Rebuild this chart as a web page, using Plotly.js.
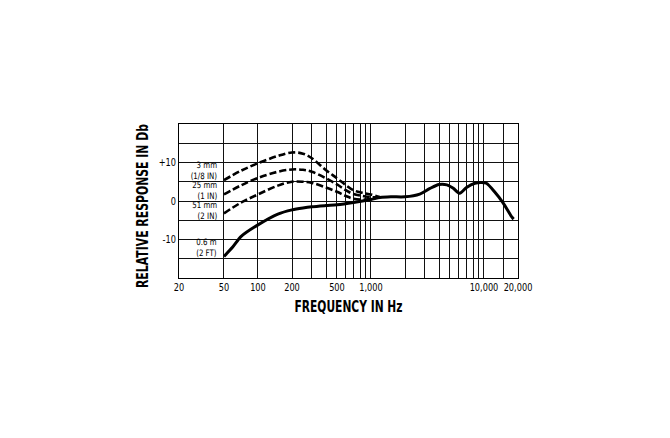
<!DOCTYPE html>
<html>
<head>
<meta charset="utf-8">
<script src="https://cdn.plot.ly/plotly-3.0.1.min.js"></script>
<style>
html,body{margin:0;padding:0;background:#fff;}
#chart{width:670px;height:438px;}
</style>
</head>
<body>
<div id="chart"></div>
<script>
// Frequencies (Hz) and relative response (dB)
const freq3mm = [50, 70, 100, 150, 200, 250, 300, 400, 500, 600, 700, 850, 1000, 1200];
const resp3mm = [5.4, 7.8, 9.8, 11.7, 12.6, 12.3, 11.1, 8.0, 5.9, 4.1, 2.8, 2.1, 1.7, 1.0];

const freq25mm = [50, 70, 100, 150, 200, 250, 300, 400, 500, 600, 700, 850, 1000, 1200];
const resp25mm = [1.7, 4.0, 6.0, 7.6, 8.2, 8.1, 7.6, 5.9, 4.3, 2.8, 1.8, 1.3, 1.0, 1.0];

const freq51mm = [50, 70, 100, 150, 200, 250, 300, 400, 500, 600, 700, 900, 1100];
const resp51mm = [-3.2, -0.5, 1.7, 4.0, 5.0, 5.0, 4.7, 3.5, 2.4, 1.3, 0.6, 0.4, 0.8];

const freq06m = [50, 60, 71, 100, 150, 200, 250, 300, 400, 500, 700, 1000, 1200, 1500, 2000, 2700, 3300, 4000, 4700, 5350, 6100, 7000, 8300, 9500, 10500, 12400, 14700, 17700, 18300];
const resp06m = [-14.4, -11.9, -9.2, -6.2, -3.4, -2.3, -1.8, -1.5, -1.2, -1.0, -0.4, 0.4, 0.9, 1.1, 1.1, 1.8, 3.2, 4.3, 4.2, 3.3, 2.0, 3.5, 4.6, 4.8, 4.6, 2.4, -0.4, -4.2, -4.7];

// Axis ticks / grid
const xGridVals = [20, 50, 100, 200, 300, 400, 500, 600, 700, 800, 900, 1000, 2000, 3000, 4000, 5000, 6000, 7000, 8000, 9000, 10000, 15000, 20000];
const xGridText = ["20", "50", "100", "200", "", "", "500", "", "", "", "", "1,000", "", "", "", "", "", "", "", "", "10,000", "", "20,000"];
const yGridVals = [-20, -15, -10, -5, 0, 5, 10, 15, 20];
const yGridText = ["", "", "-10", "", "0", "", "+10", "", ""];

// Curve labels
const labelText = ["3 mm<br>(1/8 IN)", "25 mm<br>(1 IN)", "51 mm<br>(2 IN)", "0.6 m<br>(2 FT)"];
const labelDb = [7.8, 2.8, -2.35, -11.95];

const fam = '"DejaVu Sans", sans-serif';
const dashStyle = {color: '#000', width: 2.6, dash: '7px,3px', shape: 'spline', smoothing: 1};

const traces = [
  {x: freq3mm, y: resp3mm, mode: 'lines', line: dashStyle, hoverinfo: 'skip'},
  {x: freq25mm, y: resp25mm, mode: 'lines', line: dashStyle, hoverinfo: 'skip'},
  {x: freq51mm, y: resp51mm, mode: 'lines', line: dashStyle, hoverinfo: 'skip'},
  {x: freq06m, y: resp06m, mode: 'lines', line: {color: '#000', width: 3, shape: 'spline', smoothing: 0.8}, hoverinfo: 'skip'}
];

const annotations = labelText.map((t, i) => ({
  text: t, xref: 'paper', yref: 'y', x: 0.116, y: labelDb[i],
  xanchor: 'right', yanchor: 'middle', align: 'right', showarrow: false, borderpad: 0,
  font: {family: fam, size: 8.8, color: '#000'}
}));

const layout = {
  width: 670, height: 438,
  margin: {l: 179, r: 152, t: 124, b: 160},
  paper_bgcolor: '#fff', plot_bgcolor: '#fff',
  showlegend: false,
  xaxis: {
    type: 'log', range: [Math.log10(20), Math.log10(20000)],
    tickmode: 'array', tickvals: xGridVals, ticktext: xGridText, tickangle: 0,
    showgrid: true, gridcolor: '#111', gridwidth: 1,
    showline: true, linecolor: '#000', linewidth: 1, mirror: true,
    ticks: '', zeroline: false,
    tickfont: {family: fam, size: 10, color: '#000'},
    title: {text: '<b>FREQUENCY IN Hz</b>', font: {family: fam, size: 16, color: '#000'}, standoff: 8}
  },
  yaxis: {
    range: [-20, 20],
    tickmode: 'array', tickvals: yGridVals, ticktext: yGridText,
    showgrid: true, gridcolor: '#111', gridwidth: 1,
    showline: true, linecolor: '#000', linewidth: 1, mirror: true,
    ticks: '', zeroline: false,
    tickfont: {family: fam, size: 10, color: '#000'},
    title: {text: '<b>RELATIVE RESPONSE IN Db</b>', font: {family: fam, size: 16, color: '#000'}, standoff: 2}
  },
  annotations: annotations
};

function condense(el, factor, fixed) {
  const w = el.getComputedTextLength();
  if (!w) return;
  el.setAttribute('textLength', fixed ? fixed : w * factor);
  el.setAttribute('lengthAdjust', 'spacingAndGlyphs');
}

function squeezeRight(el, factor) {
  const bb = el.getBBox();
  const rx = bb.x + bb.width;
  const prev = el.getAttribute('transform') || '';
  el.setAttribute('transform', prev + ` translate(${rx},0) scale(${factor},1) translate(${-rx},0)`);
}

function squeezeCenter(el, factor) {
  const bb = el.getBBox();
  const cx = bb.x + bb.width / 2;
  el.setAttribute('transform', (el.getAttribute('transform') || '') + ` translate(${cx},0) scale(${factor},1) translate(${-cx},0)`);
}

Plotly.newPlot('chart', traces, layout, {staticPlot: true, displayModeBar: false}).then(gd => {
  gd.querySelectorAll('.xtick text, .ytick text').forEach(el => {
    if (el.textContent) condense(el, 0.82);
  });
  gd.querySelectorAll('.annotation-text').forEach(t => squeezeRight(t, 0.8));
  const xt = gd.querySelector('.g-xtitle text');
  if (xt) condense(xt, 1, 108);
  const yt = gd.querySelector('.g-ytitle text');
  if (yt) {
    condense(yt, 1, 164);
    yt.setAttribute('x', parseFloat(yt.getAttribute('x')) - 5);
  }
});
</script>
</body>
</html>
